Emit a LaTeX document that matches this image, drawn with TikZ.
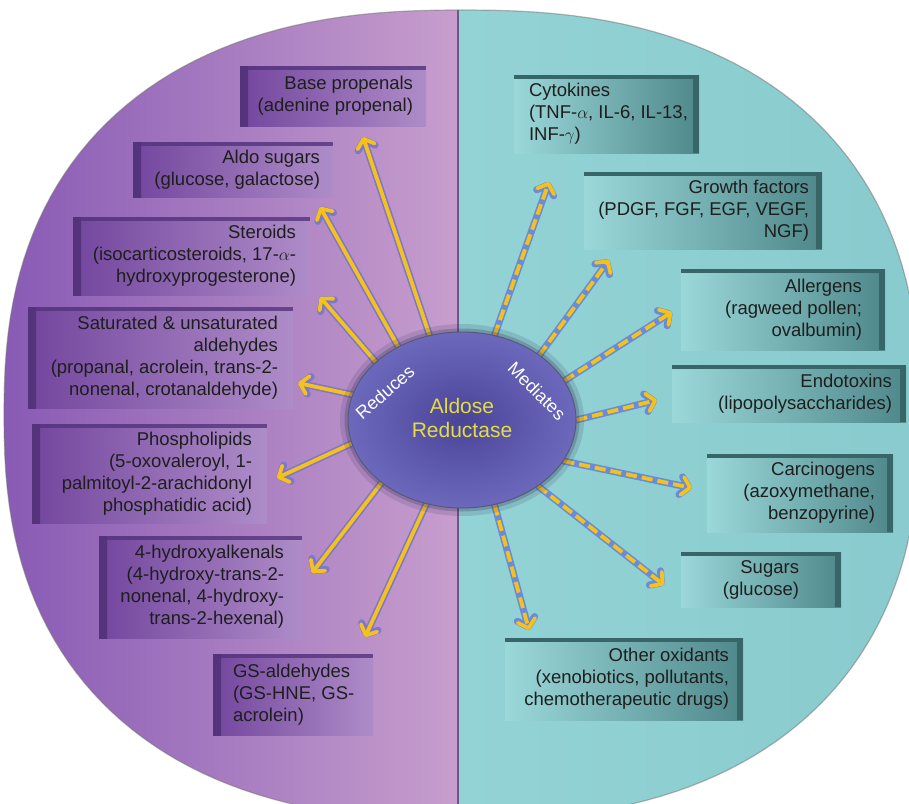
\documentclass[tikz,border=0pt]{standalone}
\usepackage{fontspec}
\setmainfont{Liberation Sans}
\usetikzlibrary{shapes.geometric,arrows.meta}
\pgfdeclarelayer{back}
\pgfdeclarelayer{arr}
\pgfsetlayers{back,arr,main}

\definecolor{pL}{HTML}{8759B4}
\definecolor{pR}{HTML}{C79ECD}
\definecolor{tL}{HTML}{93D3D5}
\definecolor{tR}{HTML}{88CACD}
\definecolor{divc}{HTML}{6A5A88}
\definecolor{lbL}{HTML}{73469E}
\definecolor{lbR}{HTML}{AE8CC8}
\definecolor{lbE}{HTML}{54337C}
\definecolor{rbL}{HTML}{9BD8DA}
\definecolor{rbR}{HTML}{4F888B}
\definecolor{rbE}{HTML}{386568}
\definecolor{ay}{HTML}{F5C21B}
\definecolor{glowL}{HTML}{7D78CC}
\definecolor{glowR}{HTML}{6A8CD8}
\definecolor{ctrIn}{HTML}{4A4497}
\definecolor{ctrOut}{HTML}{6C69BD}
\definecolor{ctrE}{HTML}{2E2F58}
\definecolor{ytext}{HTML}{E2DD45}
\definecolor{btext}{HTML}{1E1E1E}

\tikzset{
  btxt/.style={font=\fontsize{18.5}{22}\selectfont, text=btext, inner sep=0pt},
  lbox/.style={rectangle, inner sep=0pt, left color=lbL, right color=lbR,
    path picture={
      \shade[left color=lbE, right color=lbL] (path picture bounding box.north west) rectangle ([xshift=8pt]path picture bounding box.south west);
      \fill[lbE, opacity=.8] (path picture bounding box.north west) rectangle ([yshift=-4pt]path picture bounding box.north east);
    }},
  rbox/.style={rectangle, inner sep=0pt, left color=rbL, right color=rbR,
    path picture={
      \fill[rbE] ([xshift=-6pt]path picture bounding box.north east) rectangle (path picture bounding box.south east);
      \fill[rbE] (path picture bounding box.north west) rectangle ([yshift=-4pt]path picture bounding box.north east);
    }},
  glowL/.style={draw=glowL, line width=7pt, line cap=round, line join=round, -{Straight Barb[length=8pt,width=18pt,round]}},
  glowR/.style={draw=glowR, line width=7pt, line cap=round, line join=round, -{Straight Barb[length=8pt,width=18pt,round]}},
  solidA/.style={draw=ay, line width=3.8pt, line cap=round, line join=round, -{Straight Barb[length=8pt,width=18pt,round]}},
  dashA/.style={draw=ay, line width=3.8pt, line cap=butt, line join=round, dash pattern=on 11pt off 5pt, -{Straight Barb[length=8pt,width=18pt,round]}},
}

\begin{document}
\begin{tikzpicture}[x=1pt,y=-1pt]
\useasboundingbox (0,0) rectangle (909,803);

\begin{pgfonlayer}{back}
\fill[white] (0,0) rectangle (909,803);
\begin{scope}
\clip plot[domain=0.5:358.5, samples=180, variable=\t]
  ({462+458*cos(\t)*abs(cos(\t))^(-0.16667)}, {415+405*sin(\t)*abs(sin(\t))^(-0.16667)}) -- cycle;
\shade[left color=pL, right color=pR] (-5,-5) rectangle (458,815);
\shade[left color=tL, right color=tR] (458,-5) rectangle (940,815);
\draw[divc, line width=2.5pt] (458,-5) -- (458,815);
\end{scope}
\draw[black!55, line width=1.2pt, opacity=.5] plot[domain=0.5:358.5, samples=180, variable=\t]
  ({462+458*cos(\t)*abs(cos(\t))^(-0.16667)}, {415+405*sin(\t)*abs(sin(\t))^(-0.16667)}) -- cycle;

% left boxes
\node[lbox, minimum width=186pt, minimum height=60pt] (L1) at (333,96) {};
\node[lbox, minimum width=200pt, minimum height=55pt] (L2) at (233,169.5) {};
\node[lbox, minimum width=237pt, minimum height=78pt] (L3) at (191.5,256) {};
\node[lbox, minimum width=265pt, minimum height=101pt] (L4) at (160.5,357.5) {};
\node[lbox, minimum width=235pt, minimum height=99pt] (L5) at (149.5,473.5) {};
\node[lbox, minimum width=203pt, minimum height=102pt] (L6) at (200.5,587) {};
\node[lbox, minimum width=160pt, minimum height=81pt] (L7) at (293,694.5) {};
% right boxes
\node[rbox, minimum width=185pt, minimum height=78pt] (R1) at (606.5,114) {};
\node[rbox, minimum width=238pt, minimum height=77pt] (R2) at (703,210.5) {};
\node[rbox, minimum width=204pt, minimum height=81pt] (R3) at (783,309.5) {};
\node[rbox, minimum width=234pt, minimum height=57pt] (R4) at (789,393.5) {};
\node[rbox, minimum width=186pt, minimum height=78pt] (R5) at (800,493) {};
\node[rbox, minimum width=160pt, minimum height=55pt] (R6) at (761,579.5) {};
\node[rbox, minimum width=238pt, minimum height=82pt] (R7) at (624,679) {};
\end{pgfonlayer}

% centre
\fill[ctrE, opacity=.15] (462,420) ellipse [x radius=122, y radius=96];
\fill[ctrE, opacity=.25] (462,420) ellipse [x radius=117.5, y radius=91.5];
\node[ellipse, minimum width=228pt, minimum height=176pt, inner sep=0pt,
      inner color=ctrIn, outer color=ctrOut, draw=ctrE!80, line width=1pt] (AR) at (462,420) {};
\node[font=\fontsize{21}{24}\selectfont, text=ytext, align=center, inner sep=0pt] (ARt) at (462,418) {Aldose\\Reductase};
\node[rotate=41, text=white, font=\fontsize{18}{18}\selectfont, inner sep=0pt] (red) at (385,392) {Reduces};
\node[rotate=-45, text=white, font=\fontsize{18}{18}\selectfont, inner sep=0pt] (med) at (537,391) {Mediates};

% arrow tips
\coordinate (tL1) at (363,137);
\coordinate (tL2) at (320,207);
\coordinate (tL3) at (320,297);
\coordinate (tL4) at (298,383);
\coordinate (tL5) at (277,478);
\coordinate (tL6) at (312,573);
\coordinate (tL7) at (365,637);
\coordinate (tR1) at (549,182);
\coordinate (tR2) at (609,260);
\coordinate (tR3) at (672,312);
\coordinate (tR4) at (657,400);
\coordinate (tR5) at (692,488);
\coordinate (tR6) at (664,585);
\coordinate (tR7) at (529,630);

\begin{pgfonlayer}{arr}
\foreach \a/\t in {111/tL1,131/tL2,146/tL3,167/tL4,192/tL5,218/tL6,247/tL7}{
  \draw[glowL] (AR.\a) -- (\t);
  \draw[solidA] (AR.\a) -- (\t);
}
\foreach \a/\t in {69/tR1,40/tR2,21/tR3,0/tR4,338/tR5,319/tR6,291/tR7}{
  \draw[glowR] (AR.\a) -- (\t);
  \draw[dashA] (AR.\a) -- (\t);
}
\end{pgfonlayer}

% texts
\node[btxt, align=right, anchor=east] (L1t) at ([xshift=-13pt]L1.east) {Base propenals\\(adenine propenal)};
\node[btxt, align=right, anchor=east] (L2t) at ([xshift=-13pt]L2.east) {Aldo sugars\\(glucose, galactose)};
\node[btxt, align=right, anchor=east] (L3t) at ([xshift=-14pt]L3.east) {Steroids\\(isocarticosteroids, 17-$\alpha$-\\hydroxyprogesterone)};
\node[btxt, align=right, anchor=east] (L4t) at ([xshift=-15pt]L4.east) {Saturated \& unsaturated\\aldehydes\\(propanal, acrolein, trans-2-\\nonenal, crotanaldehyde)};
\node[btxt, align=right, anchor=east] (L5t) at ([xshift=-15pt]L5.east) {Phospholipids\\(5-oxovaleroyl, 1-\\palmitoyl-2-arachidonyl\\phosphatidic acid)};
\node[btxt, align=right, anchor=east] (L6t) at ([xshift=-18pt]L6.east) {4-hydroxyalkenals\\(4-hydroxy-trans-2-\\nonenal, 4-hydroxy-\\trans-2-hexenal)};
\node[btxt, align=left, anchor=west] (L7t) at ([xshift=20pt]L7.west) {GS-aldehydes\\(GS-HNE, GS-\\acrolein)};

\node[btxt, align=left, anchor=west] (R1t) at ([xshift=15pt]R1.west) {Cytokines\\(TNF-$\alpha$, IL-6, IL-13,\\INF-$\gamma$)};
\node[btxt, align=right, anchor=east] (R2t) at ([xshift=-13pt]R2.east) {Growth factors\\(PDGF, FGF, EGF, VEGF,\\NGF)};
\node[btxt, align=right, anchor=east] (R3t) at ([xshift=-23pt]R3.east) {Allergens\\(ragweed pollen;\\ovalbumin)};
\node[btxt, align=right, anchor=east] (R4t) at ([xshift=-14pt]R4.east) {Endotoxins\\(lipopolysaccharides)};
\node[btxt, align=right, anchor=east] (R5t) at ([xshift=-18pt]R5.east) {Carcinogens\\(azoxymethane,\\benzopyrine)};
\node[btxt, align=right, anchor=east] (R6t) at ([xshift=-42pt]R6.east) {Sugars\\(glucose)};
\node[btxt, align=right, anchor=east] (R7t) at ([xshift=-14pt]R7.east) {Other oxidants\\(xenobiotics, pollutants,\\chemotherapeutic drugs)};
\end{tikzpicture}
\end{document}
